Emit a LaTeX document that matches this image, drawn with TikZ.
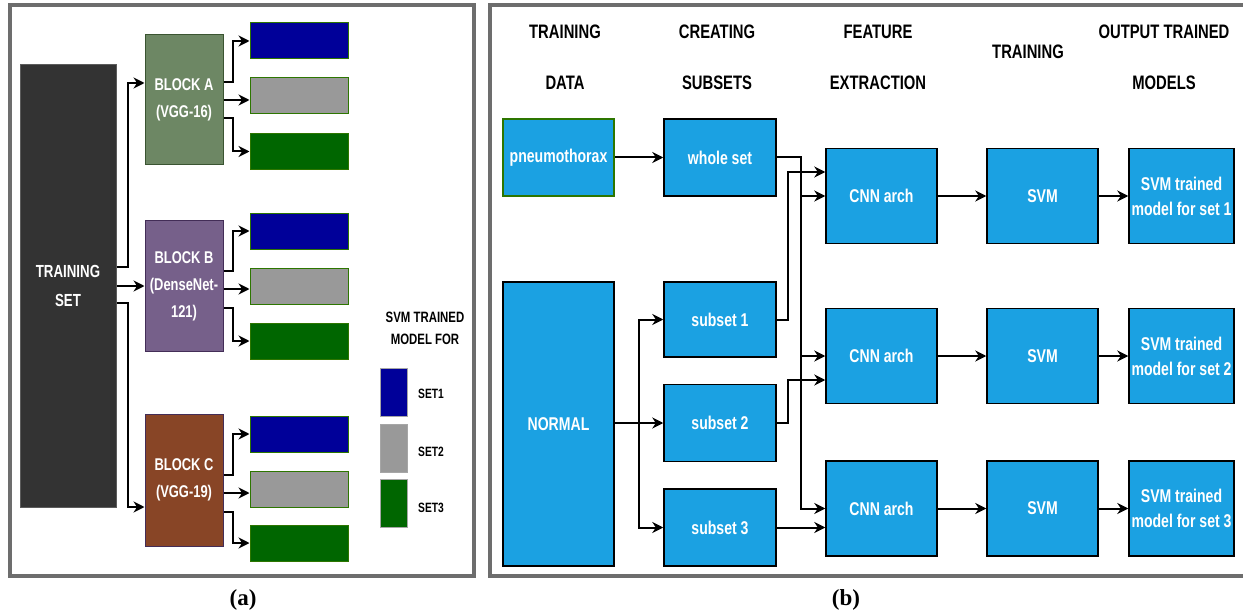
\documentclass[tikz,border=0pt]{standalone}
\usepackage{fontspec}
\setmainfont{Liberation Sans}[FakeStretch=0.76]
\newfontfamily\capfont{Liberation Serif}
\usepackage{tikz}
\usetikzlibrary{positioning,calc,arrows.meta}

\definecolor{tsgray}{HTML}{333333}
\definecolor{blkagreen}{HTML}{6D8764}
\definecolor{blkaline}{HTML}{3A5431}
\definecolor{blkbpurple}{HTML}{76608A}
\definecolor{blkbline}{HTML}{432D57}
\definecolor{blkcbrown}{HTML}{884526}
\definecolor{setblue}{HTML}{000099}
\definecolor{setgray}{HTML}{999999}
\definecolor{setgreen}{HTML}{006600}
\definecolor{barline}{HTML}{2D7600}
\definecolor{boxblue}{HTML}{1BA1E2}
\definecolor{framegray}{HTML}{6D6D6D}

\begin{document}
\begin{tikzpicture}[x=1pt,y=-1pt,
        every node/.style={inner sep=0pt, align=center},
        blk/.style={draw=#1, line width=1pt, text=white, minimum width=78pt, minimum height=130pt,
            font=\bfseries\fontsize{17}{27}\selectfont},
        bar/.style={fill=#1, draw=barline, line width=1pt, minimum width=98pt, minimum height=36pt},
        legbox/.style={fill=#1, draw=gray!70, line width=0.8pt, minimum width=27pt, minimum height=48pt},
        bbox/.style={fill=boxblue, draw=black, line width=1.5pt, text=white, minimum width=111pt,
            minimum height=77pt, font=\bfseries\fontsize{18.5}{25}\selectfont},
        hdr/.style={font=\bfseries\fontsize{19.5}{51}\selectfont},
        conn/.style={draw=black, line width=2pt, -{Stealth[length=11pt,width=11pt]}},
        frame/.style={draw=framegray, line width=4.5pt}]
    \useasboundingbox (0,0) rectangle (1243,615);

    % (a)
    \draw[frame] (10,5) rectangle (474,576);
    \node[blk=tsgray!80, fill=tsgray, minimum width=96pt, minimum height=443pt,
        font=\bfseries\fontsize{17.5}{29}\selectfont] (ts) at (68,286) {TRAINING\\SET};
    \node[blk=blkaline, fill=blkagreen] (blka) at (184,100) {BLOCK A\\(VGG-16)};
    \node[blk=blkbline, fill=blkbpurple, minimum height=131pt] (blkb) at (184,286) {BLOCK B\\(DenseNet-\\121)};
    \node[blk=blkbline, fill=blkcbrown, minimum height=132pt] (blkc) at (184,480) {BLOCK C\\(VGG-19)};

    \node[bar=setblue] (a1) at (299,41) {};
    \node[bar=setgray] (a2) at (299,96) {};
    \node[bar=setgreen] (a3) at (299,151.5) {};
    \node[bar=setblue] (b1) at (299,231) {};
    \node[bar=setgray] (b2) at (299,286) {};
    \node[bar=setgreen] (b3) at (299,341) {};
    \node[bar=setblue] (c1) at (299,434) {};
    \node[bar=setgray] (c2) at (299,489) {};
    \node[bar=setgreen] (c3) at (299,543) {};

    \draw[conn] ([yshift=19pt]ts.east) -- ++(11,0) |- ([yshift=17pt]blka.west);
    \draw[conn] (ts.east) -- (blkb.west);
    \draw[conn] ([yshift=-17pt]ts.east) -- ++(11,0) |- ([yshift=-27pt]blkc.west);

    \foreach \b/\u/\m/\l in {a/18/0/-18, b/15/-3/-22, c/5/-13/-32} {
        \draw[conn] ([yshift=\u pt]blk\b.east) -- ++(9,0) |- (\b1.west);
        \draw[conn] ([yshift=\m pt]blk\b.east) -- ([yshift=\m pt]blk\b.east -| \b2.west);
        \draw[conn] ([yshift=\l pt]blk\b.east) -- ++(9,0) |- (\b3.west);
    }

    \node[font=\bfseries\fontsize{15}{22}\selectfont] (legtitle) at (425,328) {SVM TRAINED\\MODEL FOR};
    \node[legbox=setblue] (leg1) at (393.5,392) {};
    \node[legbox=setgray] (leg2) at (393.5,448) {};
    \node[legbox=setgreen] (leg3) at (393.5,503.5) {};
    \node[font=\bfseries\fontsize{13.5}{13.5}\selectfont] (set1) at (431,394) {SET1};
    \node[font=\bfseries\fontsize{13.5}{13.5}\selectfont] (set2) at (431,452) {SET2};
    \node[font=\bfseries\fontsize{13.5}{13.5}\selectfont] (set3) at (431,508) {SET3};

    \node[font=\capfont\bfseries\fontsize{23}{23}\selectfont] (capa) at (243,600) {(a)};

    % (b)
    \draw[frame] (1243,5) -- (490,5) -- (490,576) -- (1243,576);
    \node[hdr] (hdata) at (565,57.5) {TRAINING\\DATA};
    \node[hdr] (hsub) at (717,57.5) {CREATING\\SUBSETS};
    \node[hdr] (hfeat) at (878,57.5) {FEATURE\\EXTRACTION};
    \node[hdr] (htrain) at (1028,52) {TRAINING};
    \node[hdr] (hout) at (1164,57.5) {OUTPUT TRAINED\\MODELS};

    \node[bbox, draw=barline] (pneu) at (558.5,157.5) {pneumothorax};
    \node[bbox, minimum height=284pt] (normal) at (558.5,424) {NORMAL};
    \node[bbox, minimum width=112pt] (whole) at (720,157.5) {whole set};
    \node[bbox, minimum width=112pt, minimum height=75pt] (sub1) at (720,319.5) {subset 1};
    \node[bbox, minimum width=112pt] (sub2) at (720,423) {subset 2};
    \node[bbox, minimum width=112pt] (sub3) at (720,527.5) {subset 3};

    \foreach \i/\y in {1/196, 2/356, 3/508.5} {
        \node[bbox, minimum height=95pt] (cnn\i) at (881.5,\y) {CNN arch};
        \node[bbox, minimum height=95pt] (svm\i) at (1042.5,\y) {SVM};
        \node[bbox, minimum width=105pt, minimum height=95pt] (out\i) at (1181.5,\y) {SVM trained\\model for set \i};
        \draw[conn] (cnn\i) -- (svm\i);
        \draw[conn] (svm\i) -- (out\i);
    }

    \draw[conn] (pneu) -- (whole);
    \draw[conn] (normal.east |- sub2.west) -- (sub2.west);
    \coordinate (nsplit) at (639,423);
    \draw[conn] (nsplit) |- (sub1.west);
    \draw[conn] (nsplit) |- (sub3.west);

    \draw[conn] (whole.east) -- ++(24,0) coordinate (wtrunk) |- (cnn3.west);
    \draw[conn] (wtrunk |- cnn1.west) -- (cnn1.west);
    \draw[conn] (wtrunk |- cnn2.west) -- (cnn2.west);
    \draw[conn] (sub1.east) -- ++(11,0) |- ([yshift=24pt]cnn1.west);
    \draw[conn] (sub2.east) -- ++(11,0) |- ([yshift=-24pt]cnn2.west);
    \draw[conn] (sub3.east) -- (sub3.east -| cnn3.west);

    \node[font=\capfont\bfseries\fontsize{23}{23}\selectfont] (capb) at (846,600) {(b)};
\end{tikzpicture}
\end{document}
